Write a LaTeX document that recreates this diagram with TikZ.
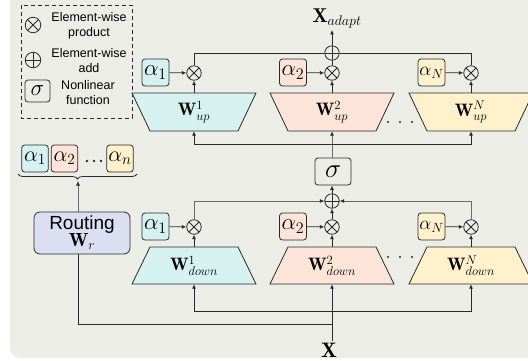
\RequirePackage{fix-cm}
\documentclass[tikz,border=0pt]{standalone}
\usepackage{fontspec}
\setsansfont{Liberation Sans}
\usetikzlibrary{arrows.meta,decorations.pathreplacing,calc}
\definecolor{bgc}{HTML}{EDEDE8}
\definecolor{lc}{HTML}{2A2A2A}
\definecolor{lg}{HTML}{6B6B6B}
\definecolor{cyanF}{HTML}{D5F2F0}
\definecolor{peachF}{HTML}{FCE5D8}
\definecolor{yelF}{HTML}{FFF1CC}
\definecolor{lavF}{HTML}{DCDFF2}
\newcommand{\TrapUp}[2]{\filldraw[fill=#2, draw=lc, line width=0.8pt] (#1-62,93) -- (#1+62,93) -- (#1+44,131) -- (#1-44,131) -- cycle;}
\newcommand{\TrapDown}[2]{\filldraw[fill=#2, draw=lc, line width=0.8pt] (#1-44,247) -- (#1+44,247) -- (#1+62,284) -- (#1-62,284) -- cycle;}
\tikzset{
  conn/.style={draw=lc, line width=0.8pt},
  arr/.style={conn, -{Latex[length=4.5pt,width=4pt]}},
  garr/.style={draw=lg, line width=0.8pt, -{Latex[length=4.5pt,width=4pt,color=lc]}},
  otimes/.style={circle, draw=lc, line width=0.8pt, minimum size=14.5pt, inner sep=0pt,
    path picture={\draw[lc, line width=0.8pt] (path picture bounding box.north west) -- (path picture bounding box.south east)
      (path picture bounding box.north east) -- (path picture bounding box.south west);}},
  oplus/.style={circle, draw=lc, line width=0.8pt, minimum size=14.5pt, inner sep=0pt,
    path picture={\draw[lc, line width=0.8pt] (path picture bounding box.north) -- (path picture bounding box.south)
      (path picture bounding box.east) -- (path picture bounding box.west);}},
  abox/.style={draw=lc, line width=0.8pt, rounded corners=3pt, minimum width=27pt, minimum height=27pt, inner sep=0pt,
    font=\fontsize{23}{23}\selectfont},
  wlab/.style={minimum width=88pt, minimum height=38pt, inner sep=0pt, font=\fontsize{18}{18}\selectfont},
  sbox/.style={draw=lc, line width=0.8pt, rounded corners=3pt, inner sep=0pt},
  legtxt/.style={align=center, font=\sffamily\fontsize{12.5}{15}\selectfont, inner sep=0pt},
}
\begin{document}
\begin{tikzpicture}[x=1pt,y=-1pt]
\useasboundingbox (0,0) rectangle (528,360);
\fill[bgc, rounded corners=10pt] (10,-20) rectangle (560,358);

% legend
\draw[lc, line width=1pt, dash pattern=on 4pt off 3pt] (21,5) rectangle (132,118);
\node[otimes, minimum size=15.5pt] (lg1) at (33,25) {};
\node[legtxt] (lt1) at (89,26) {Element-wise\\product};
\node[oplus, minimum size=15.5pt] (lg2) at (33,60) {};
\node[legtxt] (lt2) at (89,61) {Element-wise\\add};
\node[sbox, minimum width=25pt, minimum height=22pt, font=\fontsize{23}{23}\selectfont] (lg3) at (37.5,91) {$\sigma$};
\node[legtxt] (lt3) at (88,93) {Nonlinear\\function};

% up experts
\TrapUp{194}{cyanF}
\TrapUp{332}{peachF}
\TrapUp{471}{yelF}
\node[wlab] (wu1) at (194,112) {$\mathbf{W}^{1}_{up}$};
\node[wlab] (wu2) at (332,112) {$\mathbf{W}^{2}_{up}$};
\node[wlab] (wuN) at (471,112) {$\mathbf{W}^{N}_{up}$};
\node[otimes] (mu1) at (194,73) {};
\node[otimes] (mu2) at (332,73) {};
\node[otimes] (muN) at (471,73) {};
\node[abox, fill=cyanF] (au1) at (155.5,72.5) {$\alpha_1$};
\node[abox, fill=peachF] (au2) at (293,72.5) {$\alpha_2$};
\node[abox, fill=yelF, font=\fontsize{19}{19}\selectfont] (auN) at (431.5,72.5) {$\alpha_N$};
\node[oplus] (addtop) at (332,53) {};
\node[anchor=base, inner sep=2pt, font=\fontsize{20}{20}\selectfont] (xad) at (337,22) {$\mathbf{X}_{adapt}$};
\foreach \yy in {388,400,412} \fill[lc] (\yy,122) circle (1.2pt);

\draw[arr] (au1) -- (mu1);
\draw[arr] (au2) -- (mu2);
\draw[arr] (auN) -- (muN);
\draw[arr] (wu1.north) -- (mu1);
\draw[arr] (wu2.north) -- (mu2);
\draw[arr] (wuN.north) -- (muN);
\draw[conn] (mu1) |- (addtop);
\draw[conn] (muN) |- (addtop);
\draw[conn] (mu2) -- (addtop);
\draw[arr] (addtop) -- (addtop |- xad.south);

% middle
\node[sbox, minimum width=36pt, minimum height=27pt, font=\fontsize{27}{27}\selectfont] (sig) at (333,171.5) {$\sigma$};
\node[oplus] (addlow) at (332,201) {};
\coordinate (hu) at (332,144);
\draw[garr] (sig.north -| wu2.south) -- (wu2.south);
\draw[arr] (hu) -| (wu1.south);
\draw[arr] (hu) -| (wuN.south);
\draw[arr] (addlow) -- (sig.south -| addlow);

% down experts
\TrapDown{194}{cyanF}
\TrapDown{332}{peachF}
\TrapDown{471}{yelF}
\node[wlab, minimum height=37pt] (wd1) at (194,265.5) {$\mathbf{W}^{1}_{down}$};
\node[wlab, minimum height=37pt] (wd2) at (332,265.5) {$\mathbf{W}^{2}_{down}$};
\node[wlab, minimum height=37pt] (wdN) at (471,265.5) {$\mathbf{W}^{N}_{down}$};
\node[otimes] (md1) at (194,227) {};
\node[otimes] (md2) at (332,227) {};
\node[otimes] (mdN) at (471,227) {};
\node[abox, fill=cyanF] (ad1) at (155.5,226.5) {$\alpha_1$};
\node[abox, fill=peachF] (ad2) at (293,226.5) {$\alpha_2$};
\node[abox, fill=yelF, font=\fontsize{19}{19}\selectfont] (adN) at (431.5,226.5) {$\alpha_N$};
\foreach \yy in {388,400,412} \fill[lc] (\yy,257) circle (1.2pt);

\draw[arr] (ad1) -- (md1);
\draw[arr] (ad2) -- (md2);
\draw[arr] (adN) -- (mdN);
\draw[arr] (wd1.north) -- (md1);
\draw[arr] (wd2.north) -- (md2);
\draw[arr] (wdN.north) -- (mdN);
\draw[garr] (md1) |- (addlow);
\draw[garr] (mdN) |- (addlow);
\draw[arr] (md2) -- (addlow);

% input
\node[anchor=base, inner sep=1.5pt, font=\fontsize{21}{21}\selectfont] (x) at (329,357) {$\mathbf{X}$};
\coordinate (hd) at (332,311);
\coordinate (hr) at (332,324);
\draw[arr] (wd2.south |- x.north) -- (wd2.south);
\draw[arr] (hd) -| (wd1.south);
\draw[arr] (hd) -| (wdN.south);

% routing
\node[draw=lc, line width=0.8pt, fill=lavF, rounded corners=6pt, minimum width=96pt, minimum height=42pt, inner sep=0pt,
  align=center, font=\fontsize{19}{19}\selectfont] (rout) at (82,233) {\sffamily Routing\\[-2pt] $\mathbf{W}_r$};
\coordinate (bt) at (78,181);
\draw[conn] (hr) -| (bt |- rout.south);
\draw[garr] (bt |- rout.north) -- (bt);
\node[abox, fill=cyanF, minimum width=26.5pt, font=\fontsize{22}{22}\selectfont] (r1) at (35,158.5) {$\alpha_1$};
\node[abox, fill=peachF, minimum width=26.5pt, font=\fontsize{22}{22}\selectfont] (r2) at (64.5,158.5) {$\alpha_2$};
\node[abox, fill=yelF, minimum width=26.5pt, font=\fontsize{22}{22}\selectfont] (rn) at (120,158.5) {$\alpha_n$};
\foreach \yy in {87,94,101} \fill[lc] (\yy,161) circle (1.3pt);
\draw[lc, line width=0.8pt, decorate, decoration={brace, amplitude=5pt}] (137,174) -- (18,174);
\end{tikzpicture}
\end{document}
